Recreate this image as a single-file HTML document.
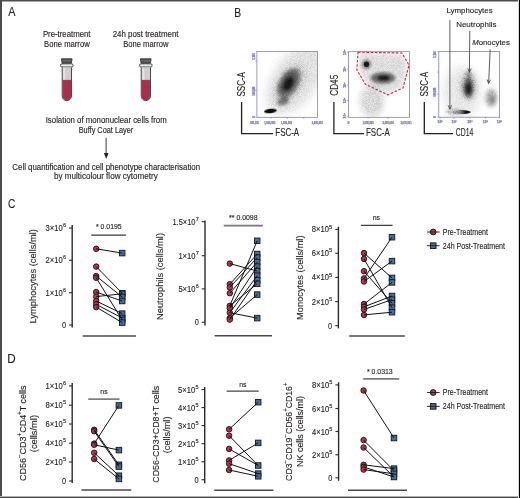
<!DOCTYPE html>
<html><head><meta charset="utf-8"><style>
html,body{margin:0;padding:0;background:#fff;}
#w{position:relative;width:520px;height:498px;overflow:hidden;background:#fff;}
svg{position:absolute;left:0;top:0;will-change:transform;}
svg text{font-family:"Liberation Sans", sans-serif;stroke-width:0.13px;}
</style></head><body><div id="w">
<svg width="520" height="498" viewBox="0 0 520 498">
<rect x="0" y="0" width="520" height="498" fill="#fff"/>
<defs><filter id="f5" x="-100%" y="-100%" width="300%" height="300%"><feGaussianBlur stdDeviation="5"/></filter><filter id="f3" x="-100%" y="-100%" width="300%" height="300%"><feGaussianBlur stdDeviation="3"/></filter><filter id="f1_2" x="-100%" y="-100%" width="300%" height="300%"><feGaussianBlur stdDeviation="1.2"/></filter><filter id="f2_5" x="-100%" y="-100%" width="300%" height="300%"><feGaussianBlur stdDeviation="2.5"/></filter><filter id="f1_5" x="-100%" y="-100%" width="300%" height="300%"><feGaussianBlur stdDeviation="1.5"/></filter><filter id="f0_5" x="-100%" y="-100%" width="300%" height="300%"><feGaussianBlur stdDeviation="0.5"/></filter><filter id="f1_0" x="-100%" y="-100%" width="300%" height="300%"><feGaussianBlur stdDeviation="1.0"/></filter><filter id="f1_6" x="-100%" y="-100%" width="300%" height="300%"><feGaussianBlur stdDeviation="1.6"/></filter><filter id="f0_7" x="-100%" y="-100%" width="300%" height="300%"><feGaussianBlur stdDeviation="0.7"/></filter><filter id="f2" x="-100%" y="-100%" width="300%" height="300%"><feGaussianBlur stdDeviation="2"/></filter><filter id="f1_8" x="-100%" y="-100%" width="300%" height="300%"><feGaussianBlur stdDeviation="1.8"/></filter><filter id="f1" x="-100%" y="-100%" width="300%" height="300%"><feGaussianBlur stdDeviation="1"/></filter></defs>
<text x="8.2" y="16.3" font-size="12" text-anchor="start" fill="#231f20" stroke="#231f20" textLength="7.2" lengthAdjust="spacingAndGlyphs" >A</text>
<text x="66.7" y="36.9" font-size="8.2" text-anchor="middle" fill="#231f20" stroke="#231f20" textLength="47.6" lengthAdjust="spacingAndGlyphs" >Pre-treatment</text>
<text x="66.9" y="46.8" font-size="8.2" text-anchor="middle" fill="#231f20" stroke="#231f20" textLength="45.6" lengthAdjust="spacingAndGlyphs" >Bone marrow</text>
<text x="145.6" y="37.0" font-size="8.2" text-anchor="middle" fill="#231f20" stroke="#231f20" textLength="65.8" lengthAdjust="spacingAndGlyphs" >24h post treatment</text>
<text x="145.8" y="46.9" font-size="8.2" text-anchor="middle" fill="#231f20" stroke="#231f20" textLength="45.2" lengthAdjust="spacingAndGlyphs" >Bone marrow</text>
<g transform="translate(59.6,0)">
<path d="M1.8,58.8 L12.5,58.8 L11.8,63.2 L2.5,63.2 Z" fill="#595959" stroke="#262626" stroke-width="0.8"/>
<line x1="2.6" y1="60.6" x2="11.8" y2="60.6" stroke="#7a7a7a" stroke-width="0.5"/>
<rect x="0.8" y="63.8" width="12.8" height="3.2" rx="1.6" fill="#e9e9e9" stroke="#262626" stroke-width="0.8"/>
<path d="M2.6,67.4 v28.6 a4.65,4.65 0 0 0 9.3,0 v-28.6" fill="#cfcdce" stroke="#2e2e2e" stroke-width="0.85"/>
<rect x="3.6" y="68" width="2.2" height="12" fill="#e4e3e3"/>
<path d="M3.0,80.2 v15.8 a4.25,4.25 0 0 0 8.5,0 v-15.8 z" fill="#aa3049"/>
<line x1="3.0" y1="80.3" x2="11.5" y2="80.3" stroke="#5a2a33" stroke-width="0.5"/>
</g>
<g transform="translate(138.6,0)">
<path d="M1.8,58.8 L12.5,58.8 L11.8,63.2 L2.5,63.2 Z" fill="#595959" stroke="#262626" stroke-width="0.8"/>
<line x1="2.6" y1="60.6" x2="11.8" y2="60.6" stroke="#7a7a7a" stroke-width="0.5"/>
<rect x="0.8" y="63.8" width="12.8" height="3.2" rx="1.6" fill="#e9e9e9" stroke="#262626" stroke-width="0.8"/>
<path d="M2.6,67.4 v28.6 a4.65,4.65 0 0 0 9.3,0 v-28.6" fill="#cfcdce" stroke="#2e2e2e" stroke-width="0.85"/>
<rect x="3.6" y="68" width="2.2" height="12" fill="#e4e3e3"/>
<path d="M3.0,80.2 v15.8 a4.25,4.25 0 0 0 8.5,0 v-15.8 z" fill="#aa3049"/>
<line x1="3.0" y1="80.3" x2="11.5" y2="80.3" stroke="#5a2a33" stroke-width="0.5"/>
</g>
<text x="106.2" y="122.9" font-size="8.2" text-anchor="middle" fill="#231f20" stroke="#231f20" textLength="121" lengthAdjust="spacingAndGlyphs" >Isolation of mononuclear cells from</text>
<text x="106.0" y="133.0" font-size="8.2" text-anchor="middle" fill="#231f20" stroke="#231f20" textLength="54.6" lengthAdjust="spacingAndGlyphs" >Buffy Coat Layer</text>
<line x1="106.1" y1="137.8" x2="106.1" y2="154" stroke="#231f20" stroke-width="0.9"/>
<path d="M103.9,153 L108.5,153 L106.2,158.9 z" fill="#231f20"/>
<text x="106.2" y="169.6" font-size="8.2" text-anchor="middle" fill="#231f20" stroke="#231f20" textLength="187.7" lengthAdjust="spacingAndGlyphs" >Cell quantification and cell phenotype characterisation</text>
<text x="105.9" y="178.8" font-size="8.2" text-anchor="middle" fill="#231f20" stroke="#231f20" textLength="103.7" lengthAdjust="spacingAndGlyphs" >by multicolour flow cytometry</text>
<text x="234.2" y="16.5" font-size="12" text-anchor="start" fill="#231f20" stroke="#231f20" textLength="6.9" lengthAdjust="spacingAndGlyphs" >B</text>
<defs>
<clipPath id="c1"><rect x="256.9" y="51.6" width="60.6" height="65.7"/></clipPath>
<clipPath id="c2"><rect x="348.4" y="51.7" width="61.0" height="65.6"/></clipPath>
<clipPath id="c3"><rect x="438.8" y="51.5" width="60.7" height="65.7"/></clipPath>
<linearGradient id="lymg" x1="0" x2="1" y1="0" y2="0"><stop offset="0" stop-color="#000" stop-opacity="0.05"/><stop offset="0.45" stop-color="#000" stop-opacity="0.35"/><stop offset="0.75" stop-color="#000" stop-opacity="0.95"/><stop offset="1" stop-color="#000" stop-opacity="0.8"/></linearGradient>
<filter id="grain" filterUnits="userSpaceOnUse" x="0" y="0" width="520" height="498" color-interpolation-filters="sRGB"><feTurbulence type="fractalNoise" baseFrequency="1.4" numOctaves="1" seed="3" result="n"/><feColorMatrix in="n" type="matrix" values="0 0 0 0 0  0 0 0 0 0  0 0 0 0 0  0 0 0 1.3 -0.05" result="m"/><feComposite in="SourceGraphic" in2="m" operator="in"/></filter>
</defs>
<g clip-path="url(#c1)"><g filter="url(#grain)">
<ellipse cx="296" cy="78" rx="42" ry="22" transform="rotate(-55 296 78)" fill="#000" fill-opacity="0.2" filter="url(#f5)"/>
<ellipse cx="290" cy="84" rx="22" ry="11" transform="rotate(-58 290 84)" fill="#000" fill-opacity="0.24" filter="url(#f3)"/>
</g>
<ellipse cx="289" cy="83.5" rx="17" ry="9.5" transform="rotate(-60 289 83.5)" fill="#000" fill-opacity="0.2" filter="url(#f1_2)"/>
<ellipse cx="288.5" cy="83" rx="14" ry="8" transform="rotate(-60 288.5 83)" fill="#000" fill-opacity="0.5" filter="url(#f2_5)"/>
<ellipse cx="288.3" cy="83.8" rx="7" ry="4.2" transform="rotate(-60 288.3 83.8)" fill="#000" fill-opacity="0.72" filter="url(#f1_5)"/>
<ellipse cx="283" cy="101.2" rx="6" ry="3.8" transform="rotate(-20 283 101.2)" fill="#000" fill-opacity="0.45" filter="url(#f1_5)"/>
<ellipse cx="270.4" cy="111" rx="6.4" ry="2.2" transform="rotate(-6 270.4 111)" fill="#000" fill-opacity="0.95" filter="url(#f0_5)"/>
</g>
<rect x="256.9" y="51.6" width="60.6" height="65.7" fill="none" stroke="#7878c0" stroke-width="0.75"/>
<g clip-path="url(#c2)"><g filter="url(#grain)">
<path d="M360,53 L401,54 L408,66 L402,87 L388,93.5 L366,83.5 L358,70 Z" fill="#000" fill-opacity="0.22" filter="url(#f2_5)"/>
<ellipse cx="372" cy="101" rx="12" ry="16" transform="rotate(0 372 101)" fill="#000" fill-opacity="0.26" filter="url(#f3)"/>
</g>
<ellipse cx="383" cy="78" rx="13" ry="6.2" transform="rotate(0 383 78)" fill="#000" fill-opacity="0.22" filter="url(#f1_0)"/>
<ellipse cx="383" cy="77.9" rx="11.5" ry="5.2" transform="rotate(0 383 77.9)" fill="#000" fill-opacity="0.42" filter="url(#f1_6)"/>
<ellipse cx="383.5" cy="78" rx="6" ry="2.4" transform="rotate(0 383.5 78)" fill="#000" fill-opacity="0.75" filter="url(#f1_0)"/>
<ellipse cx="366.5" cy="64.3" rx="4.8" ry="4.8" transform="rotate(0 366.5 64.3)" fill="#000" fill-opacity="0.4" filter="url(#f1_2)"/>
<ellipse cx="366.5" cy="64.3" rx="2.6" ry="2.8" transform="rotate(0 366.5 64.3)" fill="#000" fill-opacity="0.8" filter="url(#f0_7)"/>
</g>
<rect x="348.4" y="51.7" width="61.0" height="65.6" fill="none" stroke="#7878c0" stroke-width="0.75"/>
<path d="M358,52.2 L401.8,53 L409,65.1 L403,88 L387.9,94.8 L365.4,84.3 L356.9,69.9 Z" fill="none" stroke="#c8283a" stroke-width="1.1" stroke-dasharray="2.6,1.6"/>
<g clip-path="url(#c3)"><g filter="url(#grain)">
<ellipse cx="462" cy="92" rx="19" ry="26" transform="rotate(0 462 92)" fill="#000" fill-opacity="0.15" filter="url(#f5)"/>
<ellipse cx="468.5" cy="86" rx="8.5" ry="14.5" transform="rotate(0 468.5 86)" fill="#000" fill-opacity="0.32" filter="url(#f2)"/>
<ellipse cx="491" cy="97.5" rx="6.5" ry="10" transform="rotate(0 491 97.5)" fill="#000" fill-opacity="0.26" filter="url(#f2)"/>
<ellipse cx="455" cy="111.8" rx="10" ry="3" transform="rotate(0 455 111.8)" fill="#000" fill-opacity="0.35" filter="url(#f1_5)"/>
</g>
<ellipse cx="468.6" cy="77" rx="2.6" ry="5" transform="rotate(0 468.6 77)" fill="#000" fill-opacity="0.3" filter="url(#f1_5)"/>
<ellipse cx="468.5" cy="88" rx="5.2" ry="9.5" transform="rotate(0 468.5 88)" fill="#000" fill-opacity="0.5" filter="url(#f1_8)"/>
<ellipse cx="468.5" cy="88.5" rx="2.8" ry="5.5" transform="rotate(0 468.5 88.5)" fill="#000" fill-opacity="0.65" filter="url(#f1_2)"/>
<ellipse cx="491.5" cy="98.5" rx="5.5" ry="8.5" transform="rotate(0 491.5 98.5)" fill="#000" fill-opacity="0.18" filter="url(#f1_5)"/>
<ellipse cx="492.2" cy="99.5" rx="2.5" ry="3.5" transform="rotate(0 492.2 99.5)" fill="#000" fill-opacity="0.2" filter="url(#f1)"/>
<ellipse cx="461" cy="112.1" rx="10" ry="2.0" fill="url(#lymg)" filter="url(#f0_7)"/>
</g>
<rect x="438.8" y="51.5" width="60.7" height="65.7" fill="none" stroke="#7878c0" stroke-width="0.75"/>
<line x1="255.3" y1="61" x2="256.9" y2="61" stroke="#7878c0" stroke-width="0.6"/>
<line x1="255.3" y1="90" x2="256.9" y2="90" stroke="#7878c0" stroke-width="0.6"/>
<line x1="255.3" y1="117" x2="256.9" y2="117" stroke="#7878c0" stroke-width="0.6"/>
<line x1="271" y1="117.3" x2="271" y2="118.9" stroke="#7878c0" stroke-width="0.6"/>
<line x1="287.3" y1="117.3" x2="287.3" y2="118.9" stroke="#7878c0" stroke-width="0.6"/>
<line x1="303.8" y1="117.3" x2="303.8" y2="118.9" stroke="#7878c0" stroke-width="0.6"/>
<text transform="translate(254.6,56.5) rotate(-90)" font-size="3.5" text-anchor="middle" fill="#7878c0" stroke="#7878c0" font-weight="bold" style="stroke-width:0.25px" textLength="6.25" lengthAdjust="spacingAndGlyphs">1,180</text>
<text transform="translate(254.6,91) rotate(-90)" font-size="3.5" text-anchor="middle" fill="#7878c0" stroke="#7878c0" font-weight="bold" style="stroke-width:0.25px" textLength="8.75" lengthAdjust="spacingAndGlyphs">568,880</text>
<text transform="translate(254.6,117) rotate(-90)" font-size="3.5" text-anchor="middle" fill="#7878c0" stroke="#7878c0" font-weight="bold" style="stroke-width:0.25px">0</text>
<text x="254.5" y="123.6" font-size="3.5" text-anchor="middle" fill="#7878c0" stroke="#7878c0" font-weight="bold" style="stroke-width:0.25px" textLength="8.75" lengthAdjust="spacingAndGlyphs">590,100</text>
<text x="269.8" y="123.6" font-size="3.5" text-anchor="middle" fill="#7878c0" stroke="#7878c0" font-weight="bold" style="stroke-width:0.25px" textLength="11.25" lengthAdjust="spacingAndGlyphs">1,000,000</text>
<text x="286.5" y="123.6" font-size="3.5" text-anchor="middle" fill="#7878c0" stroke="#7878c0" font-weight="bold" style="stroke-width:0.25px" textLength="11.25" lengthAdjust="spacingAndGlyphs">1,500,000</text>
<text x="317.3" y="123.6" font-size="3.5" text-anchor="middle" fill="#7878c0" stroke="#7878c0" font-weight="bold" style="stroke-width:0.25px" textLength="11.25" lengthAdjust="spacingAndGlyphs">2,400,010</text>
<line x1="346.8" y1="52.2" x2="348.4" y2="52.2" stroke="#7878c0" stroke-width="0.6"/>
<line x1="346.8" y1="69.1" x2="348.4" y2="69.1" stroke="#7878c0" stroke-width="0.6"/>
<line x1="346.8" y1="85.1" x2="348.4" y2="85.1" stroke="#7878c0" stroke-width="0.6"/>
<line x1="346.8" y1="100.4" x2="348.4" y2="100.4" stroke="#7878c0" stroke-width="0.6"/>
<line x1="346.8" y1="116.5" x2="348.4" y2="116.5" stroke="#7878c0" stroke-width="0.6"/>
<line x1="368" y1="117.3" x2="368" y2="118.9" stroke="#7878c0" stroke-width="0.6"/>
<line x1="388.2" y1="117.3" x2="388.2" y2="118.9" stroke="#7878c0" stroke-width="0.6"/>
<text transform="translate(345.6,52.2) rotate(-90)" font-size="3.5" text-anchor="middle" fill="#7878c0" stroke="#7878c0" font-weight="bold" style="stroke-width:0.25px">10⁵</text>
<text transform="translate(345.6,69.1) rotate(-90)" font-size="3.5" text-anchor="middle" fill="#7878c0" stroke="#7878c0" font-weight="bold" style="stroke-width:0.25px">10⁵</text>
<text transform="translate(345.6,85.1) rotate(-90)" font-size="3.5" text-anchor="middle" fill="#7878c0" stroke="#7878c0" font-weight="bold" style="stroke-width:0.25px">10⁵</text>
<text transform="translate(345.6,100.4) rotate(-90)" font-size="3.5" text-anchor="middle" fill="#7878c0" stroke="#7878c0" font-weight="bold" style="stroke-width:0.25px">10⁵</text>
<text transform="translate(345.6,115.7) rotate(-90)" font-size="3.5" text-anchor="middle" fill="#7878c0" stroke="#7878c0" font-weight="bold" style="stroke-width:0.25px">10⁵</text>
<text x="348.4" y="123.6" font-size="3.5" text-anchor="middle" fill="#7878c0" stroke="#7878c0" font-weight="bold" style="stroke-width:0.25px">0</text>
<text x="368" y="123.6" font-size="3.5" text-anchor="middle" fill="#7878c0" stroke="#7878c0" font-weight="bold" style="stroke-width:0.25px" textLength="11.25" lengthAdjust="spacingAndGlyphs">1,000,000</text>
<text x="388.2" y="123.6" font-size="3.5" text-anchor="middle" fill="#7878c0" stroke="#7878c0" font-weight="bold" style="stroke-width:0.25px" textLength="11.25" lengthAdjust="spacingAndGlyphs">2,000,000</text>
<text x="406" y="123.6" font-size="3.5" text-anchor="middle" fill="#7878c0" stroke="#7878c0" font-weight="bold" style="stroke-width:0.25px" textLength="11.25" lengthAdjust="spacingAndGlyphs">3,070,031</text>
<line x1="437.2" y1="51.8" x2="438.8" y2="51.8" stroke="#7878c0" stroke-width="0.6"/>
<line x1="437.2" y1="72" x2="438.8" y2="72" stroke="#7878c0" stroke-width="0.6"/>
<line x1="437.2" y1="94" x2="438.8" y2="94" stroke="#7878c0" stroke-width="0.6"/>
<line x1="437.2" y1="117" x2="438.8" y2="117" stroke="#7878c0" stroke-width="0.6"/>
<line x1="440" y1="117.2" x2="440" y2="118.8" stroke="#7878c0" stroke-width="0.6"/>
<line x1="454" y1="117.2" x2="454" y2="118.8" stroke="#7878c0" stroke-width="0.6"/>
<line x1="469.8" y1="117.2" x2="469.8" y2="118.8" stroke="#7878c0" stroke-width="0.6"/>
<line x1="485.4" y1="117.2" x2="485.4" y2="118.8" stroke="#7878c0" stroke-width="0.6"/>
<line x1="499.4" y1="117.2" x2="499.4" y2="118.8" stroke="#7878c0" stroke-width="0.6"/>
<text transform="translate(436.2,54.5) rotate(-90)" font-size="3.5" text-anchor="middle" fill="#7878c0" stroke="#7878c0" font-weight="bold" style="stroke-width:0.25px" textLength="6.25" lengthAdjust="spacingAndGlyphs">1,180</text>
<text transform="translate(436.2,92) rotate(-90)" font-size="3.5" text-anchor="middle" fill="#7878c0" stroke="#7878c0" font-weight="bold" style="stroke-width:0.25px" textLength="8.75" lengthAdjust="spacingAndGlyphs">568,880</text>
<text transform="translate(436.2,117) rotate(-90)" font-size="3.5" text-anchor="middle" fill="#7878c0" stroke="#7878c0" font-weight="bold" style="stroke-width:0.25px">0</text>
<text x="440" y="123.4" font-size="3.5" text-anchor="middle" fill="#7878c0" stroke="#7878c0" font-weight="bold" style="stroke-width:0.25px">10³</text>
<text x="454" y="123.4" font-size="3.5" text-anchor="middle" fill="#7878c0" stroke="#7878c0" font-weight="bold" style="stroke-width:0.25px">10³</text>
<text x="469.8" y="123.4" font-size="3.5" text-anchor="middle" fill="#7878c0" stroke="#7878c0" font-weight="bold" style="stroke-width:0.25px">10³</text>
<text x="485.4" y="123.4" font-size="3.5" text-anchor="middle" fill="#7878c0" stroke="#7878c0" font-weight="bold" style="stroke-width:0.25px">10³</text>
<text x="499.4" y="123.4" font-size="3.5" text-anchor="middle" fill="#7878c0" stroke="#7878c0" font-weight="bold" style="stroke-width:0.25px">10³</text>
<text transform="translate(245.3,84.3) rotate(-90)" x="0" y="0" font-size="10.3" text-anchor="middle" fill="#231f20" stroke="#231f20" textLength="24.6" lengthAdjust="spacingAndGlyphs">SSC-A</text>
<path d="M241.6,102.1 V133.6 H273" fill="none" stroke="#231f20" stroke-width="1.3"/>
<text x="275.3" y="136.3" font-size="10.3" text-anchor="start" fill="#231f20" stroke="#231f20" textLength="23.8" lengthAdjust="spacingAndGlyphs" >FSC-A</text>
<text transform="translate(337.5,85.3) rotate(-90)" x="0" y="0" font-size="10.3" text-anchor="middle" fill="#231f20" stroke="#231f20" textLength="21" lengthAdjust="spacingAndGlyphs">CD45</text>
<path d="M333.9,102.1 V133.6 H364" fill="none" stroke="#231f20" stroke-width="1.3"/>
<text x="366" y="136.3" font-size="10.3" text-anchor="start" fill="#231f20" stroke="#231f20" textLength="23.8" lengthAdjust="spacingAndGlyphs" >FSC-A</text>
<text transform="translate(427.6,84.2) rotate(-90)" x="0" y="0" font-size="10.3" text-anchor="middle" fill="#231f20" stroke="#231f20" textLength="24.6" lengthAdjust="spacingAndGlyphs">SSC-A</text>
<path d="M424.3,102.1 V133.6 H453" fill="none" stroke="#231f20" stroke-width="1.3"/>
<text x="455.8" y="136.3" font-size="10.3" text-anchor="start" fill="#231f20" stroke="#231f20" textLength="17.4" lengthAdjust="spacingAndGlyphs" >CD14</text>
<text x="446.5" y="13.3" font-size="8.1" text-anchor="start" fill="#231f20" stroke="#231f20" textLength="46.1" lengthAdjust="spacingAndGlyphs" >Lymphocytes</text>
<text x="456.2" y="27.2" font-size="8.1" text-anchor="start" fill="#231f20" stroke="#231f20" textLength="40.3" lengthAdjust="spacingAndGlyphs" >Neutrophils</text>
<text x="472.3" y="45.0" font-size="8.1" text-anchor="start" fill="#231f20" stroke="#231f20" textLength="37.5" lengthAdjust="spacingAndGlyphs" ><tspan font-style="italic">M</tspan>onocytes</text>
<line x1="449.9" y1="20" x2="449.9" y2="109.2" stroke="#4a4a4a" stroke-width="0.9"/>
<path d="M448.19,105.37 L449.9,109.2 L451.61,105.37" fill="none" stroke="#4a4a4a" stroke-width="0.9"/>
<line x1="469.8" y1="30.8" x2="469.4" y2="72.3" stroke="#4a4a4a" stroke-width="0.9"/>
<path d="M467.72,68.45 L469.4,72.3 L471.15,68.48" fill="none" stroke="#4a4a4a" stroke-width="0.9"/>
<line x1="490.2" y1="49.5" x2="488.6" y2="83.5" stroke="#4a4a4a" stroke-width="0.9"/>
<path d="M487.07,79.59 L488.6,83.5 L490.49,79.75" fill="none" stroke="#4a4a4a" stroke-width="0.9"/>
<text x="7.9" y="207.6" font-size="12.2" text-anchor="start" fill="#231f20" stroke="#231f20" textLength="7.3" lengthAdjust="spacingAndGlyphs" >C</text>
<text x="7.3" y="362.9" font-size="12.2" text-anchor="start" fill="#231f20" stroke="#231f20" textLength="8.4" lengthAdjust="spacingAndGlyphs" >D</text>
<text transform="translate(36.0,276.3) rotate(-90)" x="0" y="0" font-size="9.3" text-anchor="middle" fill="#231f20" stroke="#231f20" textLength="94.4" lengthAdjust="spacingAndGlyphs">Lymphocytes (cells/ml)</text>
<line x1="72.2" y1="225" x2="72.2" y2="327.5" stroke="#2a2a2a" stroke-width="1.4"/>
<line x1="69.0" y1="228" x2="72.2" y2="228" stroke="#2a2a2a" stroke-width="1.1"/>
<text x="66.0" y="227.1" font-size="6" text-anchor="end" fill="#231f20" stroke="#231f20" textLength="3.1" lengthAdjust="spacingAndGlyphs">6</text>
<text x="62.7" y="231.0" font-size="8.6" text-anchor="end" fill="#231f20" stroke="#231f20" textLength="17.08" lengthAdjust="spacingAndGlyphs">3×10</text>
<line x1="69.0" y1="260.3" x2="72.2" y2="260.3" stroke="#2a2a2a" stroke-width="1.1"/>
<text x="66.0" y="259.4" font-size="6" text-anchor="end" fill="#231f20" stroke="#231f20" textLength="3.1" lengthAdjust="spacingAndGlyphs">6</text>
<text x="62.7" y="263.3" font-size="8.6" text-anchor="end" fill="#231f20" stroke="#231f20" textLength="17.08" lengthAdjust="spacingAndGlyphs">2×10</text>
<line x1="69.0" y1="292.7" x2="72.2" y2="292.7" stroke="#2a2a2a" stroke-width="1.1"/>
<text x="66.0" y="291.8" font-size="6" text-anchor="end" fill="#231f20" stroke="#231f20" textLength="3.1" lengthAdjust="spacingAndGlyphs">6</text>
<text x="62.7" y="295.7" font-size="8.6" text-anchor="end" fill="#231f20" stroke="#231f20" textLength="17.08" lengthAdjust="spacingAndGlyphs">1×10</text>
<line x1="69.0" y1="325" x2="72.2" y2="325" stroke="#2a2a2a" stroke-width="1.1"/>
<text x="66.0" y="328.0" font-size="8.6" text-anchor="end" fill="#231f20" stroke="#231f20" textLength="4.1" lengthAdjust="spacingAndGlyphs">0</text>
<line x1="91.2" y1="235.2" x2="125.9" y2="235.2" stroke="#383838" stroke-width="1.3"/>
<text x="108.8" y="229.1" font-size="6.9" text-anchor="middle" fill="#231f20" stroke="#231f20" >* 0.0195</text>
<line x1="82.6" y1="336" x2="136" y2="336" stroke="#4a4a4a" stroke-width="1.6"/>
<circle cx="96.2" cy="248.8" r="2.75" fill="#bb344c" stroke="#1e1416" stroke-width="0.95"/>
<circle cx="96.2" cy="266.6" r="2.75" fill="#bb344c" stroke="#1e1416" stroke-width="0.95"/>
<circle cx="96.2" cy="276.1" r="2.75" fill="#bb344c" stroke="#1e1416" stroke-width="0.95"/>
<circle cx="96.2" cy="277.8" r="2.75" fill="#bb344c" stroke="#1e1416" stroke-width="0.95"/>
<circle cx="96.2" cy="292.1" r="2.75" fill="#bb344c" stroke="#1e1416" stroke-width="0.95"/>
<circle cx="96.2" cy="296.6" r="2.75" fill="#bb344c" stroke="#1e1416" stroke-width="0.95"/>
<circle cx="96.2" cy="301" r="2.75" fill="#bb344c" stroke="#1e1416" stroke-width="0.95"/>
<circle cx="96.2" cy="304.4" r="2.75" fill="#bb344c" stroke="#1e1416" stroke-width="0.95"/>
<circle cx="96.2" cy="307.1" r="2.75" fill="#bb344c" stroke="#1e1416" stroke-width="0.95"/>
<rect x="119.45" y="250.35" width="5.5" height="5.5" fill="#476d9f" stroke="#161b24" stroke-width="0.95"/>
<rect x="119.45" y="290.45" width="5.5" height="5.5" fill="#476d9f" stroke="#161b24" stroke-width="0.95"/>
<rect x="119.45" y="291.05" width="5.5" height="5.5" fill="#476d9f" stroke="#161b24" stroke-width="0.95"/>
<rect x="119.45" y="294.25" width="5.5" height="5.5" fill="#476d9f" stroke="#161b24" stroke-width="0.95"/>
<rect x="119.45" y="298.25" width="5.5" height="5.5" fill="#476d9f" stroke="#161b24" stroke-width="0.95"/>
<rect x="119.45" y="310.85" width="5.5" height="5.5" fill="#476d9f" stroke="#161b24" stroke-width="0.95"/>
<rect x="119.45" y="315.25" width="5.5" height="5.5" fill="#476d9f" stroke="#161b24" stroke-width="0.95"/>
<rect x="119.45" y="317.25" width="5.5" height="5.5" fill="#476d9f" stroke="#161b24" stroke-width="0.95"/>
<rect x="119.45" y="319.85" width="5.5" height="5.5" fill="#476d9f" stroke="#161b24" stroke-width="0.95"/>
<line x1="96.2" y1="248.8" x2="122.2" y2="253.1" stroke="#111" stroke-width="1.0"/>
<line x1="96.2" y1="266.6" x2="122.2" y2="293.2" stroke="#111" stroke-width="1.0"/>
<line x1="96.2" y1="276.1" x2="122.2" y2="297" stroke="#111" stroke-width="1.0"/>
<line x1="96.2" y1="277.8" x2="122.2" y2="320" stroke="#111" stroke-width="1.0"/>
<line x1="96.2" y1="292.1" x2="122.2" y2="301" stroke="#111" stroke-width="1.0"/>
<line x1="96.2" y1="296.6" x2="122.2" y2="293.8" stroke="#111" stroke-width="1.0"/>
<line x1="96.2" y1="301" x2="122.2" y2="313.6" stroke="#111" stroke-width="1.0"/>
<line x1="96.2" y1="304.4" x2="122.2" y2="318" stroke="#111" stroke-width="1.0"/>
<line x1="96.2" y1="307.1" x2="122.2" y2="322.6" stroke="#111" stroke-width="1.0"/>
<text transform="translate(162.5,276.5) rotate(-90)" x="0" y="0" font-size="9.3" text-anchor="middle" fill="#231f20" stroke="#231f20" textLength="87" lengthAdjust="spacingAndGlyphs">Neutrophils (cells/ml)</text>
<line x1="205.0" y1="220.4" x2="205.0" y2="325.5" stroke="#2a2a2a" stroke-width="1.4"/>
<line x1="201.8" y1="221.7" x2="205.0" y2="221.7" stroke="#2a2a2a" stroke-width="1.1"/>
<text x="198.8" y="220.8" font-size="6" text-anchor="end" fill="#231f20" stroke="#231f20" textLength="3.1" lengthAdjust="spacingAndGlyphs">7</text>
<text x="195.5" y="224.7" font-size="8.6" text-anchor="end" fill="#231f20" stroke="#231f20" textLength="23.1" lengthAdjust="spacingAndGlyphs">1.5×10</text>
<line x1="201.8" y1="255.7" x2="205.0" y2="255.7" stroke="#2a2a2a" stroke-width="1.1"/>
<text x="198.8" y="254.8" font-size="6" text-anchor="end" fill="#231f20" stroke="#231f20" textLength="3.1" lengthAdjust="spacingAndGlyphs">7</text>
<text x="195.5" y="258.7" font-size="8.6" text-anchor="end" fill="#231f20" stroke="#231f20" textLength="17.08" lengthAdjust="spacingAndGlyphs">1×10</text>
<line x1="201.8" y1="288.9" x2="205.0" y2="288.9" stroke="#2a2a2a" stroke-width="1.1"/>
<text x="198.8" y="288.0" font-size="6" text-anchor="end" fill="#231f20" stroke="#231f20" textLength="3.1" lengthAdjust="spacingAndGlyphs">6</text>
<text x="195.5" y="291.9" font-size="8.6" text-anchor="end" fill="#231f20" stroke="#231f20" textLength="17.08" lengthAdjust="spacingAndGlyphs">5×10</text>
<line x1="201.8" y1="322.3" x2="205.0" y2="322.3" stroke="#2a2a2a" stroke-width="1.1"/>
<text x="198.8" y="325.3" font-size="8.6" text-anchor="end" fill="#231f20" stroke="#231f20" textLength="4.1" lengthAdjust="spacingAndGlyphs">0</text>
<line x1="223.7" y1="225.7" x2="262.9" y2="225.7" stroke="#7a7a7a" stroke-width="1.7"/>
<text x="243.3" y="219.6" font-size="6.9" text-anchor="middle" fill="#231f20" stroke="#231f20" >** 0.0098</text>
<line x1="214.6" y1="335.7" x2="272" y2="335.7" stroke="#4a4a4a" stroke-width="1.6"/>
<circle cx="229.8" cy="263.6" r="2.75" fill="#bb344c" stroke="#1e1416" stroke-width="0.95"/>
<circle cx="229.8" cy="284.2" r="2.75" fill="#bb344c" stroke="#1e1416" stroke-width="0.95"/>
<circle cx="229.8" cy="287.4" r="2.75" fill="#bb344c" stroke="#1e1416" stroke-width="0.95"/>
<circle cx="229.8" cy="293.2" r="2.75" fill="#bb344c" stroke="#1e1416" stroke-width="0.95"/>
<circle cx="229.8" cy="305.8" r="2.75" fill="#bb344c" stroke="#1e1416" stroke-width="0.95"/>
<circle cx="229.8" cy="308.2" r="2.75" fill="#bb344c" stroke="#1e1416" stroke-width="0.95"/>
<circle cx="229.8" cy="312.7" r="2.75" fill="#bb344c" stroke="#1e1416" stroke-width="0.95"/>
<circle cx="229.8" cy="318.1" r="2.75" fill="#bb344c" stroke="#1e1416" stroke-width="0.95"/>
<circle cx="229.8" cy="319.6" r="2.75" fill="#bb344c" stroke="#1e1416" stroke-width="0.95"/>
<rect x="254.45" y="238.05" width="5.5" height="5.5" fill="#476d9f" stroke="#161b24" stroke-width="0.95"/>
<rect x="254.45" y="251.25" width="5.5" height="5.5" fill="#476d9f" stroke="#161b24" stroke-width="0.95"/>
<rect x="254.45" y="254.85" width="5.5" height="5.5" fill="#476d9f" stroke="#161b24" stroke-width="0.95"/>
<rect x="254.45" y="259.35" width="5.5" height="5.5" fill="#476d9f" stroke="#161b24" stroke-width="0.95"/>
<rect x="254.45" y="263.85" width="5.5" height="5.5" fill="#476d9f" stroke="#161b24" stroke-width="0.95"/>
<rect x="254.45" y="268.35" width="5.5" height="5.5" fill="#476d9f" stroke="#161b24" stroke-width="0.95"/>
<rect x="254.45" y="272.95" width="5.5" height="5.5" fill="#476d9f" stroke="#161b24" stroke-width="0.95"/>
<rect x="254.45" y="277.45" width="5.5" height="5.5" fill="#476d9f" stroke="#161b24" stroke-width="0.95"/>
<rect x="254.45" y="281.05" width="5.5" height="5.5" fill="#476d9f" stroke="#161b24" stroke-width="0.95"/>
<rect x="254.45" y="291.85" width="5.5" height="5.5" fill="#476d9f" stroke="#161b24" stroke-width="0.95"/>
<rect x="254.45" y="315.35" width="5.5" height="5.5" fill="#476d9f" stroke="#161b24" stroke-width="0.95"/>
<line x1="229.8" y1="263.6" x2="257.2" y2="271.1" stroke="#111" stroke-width="1.0"/>
<line x1="229.8" y1="284.2" x2="257.2" y2="254" stroke="#111" stroke-width="1.0"/>
<line x1="229.8" y1="287.4" x2="257.2" y2="257.6" stroke="#111" stroke-width="1.0"/>
<line x1="229.8" y1="293.2" x2="257.2" y2="262.1" stroke="#111" stroke-width="1.0"/>
<line x1="229.8" y1="305.8" x2="257.2" y2="240.8" stroke="#111" stroke-width="1.0"/>
<line x1="229.8" y1="305.8" x2="257.2" y2="283.8" stroke="#111" stroke-width="1.0"/>
<line x1="229.8" y1="308.2" x2="257.2" y2="266.6" stroke="#111" stroke-width="1.0"/>
<line x1="229.8" y1="312.7" x2="257.2" y2="318.1" stroke="#111" stroke-width="1.0"/>
<line x1="229.8" y1="312.7" x2="257.2" y2="275.7" stroke="#111" stroke-width="1.0"/>
<line x1="229.8" y1="318.1" x2="257.2" y2="294.6" stroke="#111" stroke-width="1.0"/>
<line x1="229.8" y1="319.6" x2="257.2" y2="280.2" stroke="#111" stroke-width="1.0"/>
<text transform="translate(302.8,277.7) rotate(-90)" x="0" y="0" font-size="9.3" text-anchor="middle" fill="#231f20" stroke="#231f20" textLength="84.4" lengthAdjust="spacingAndGlyphs">Monocytes (cells/ml)</text>
<line x1="338.4" y1="226.7" x2="338.4" y2="328.4" stroke="#2a2a2a" stroke-width="1.4"/>
<line x1="335.2" y1="229.4" x2="338.4" y2="229.4" stroke="#2a2a2a" stroke-width="1.1"/>
<text x="332.2" y="228.5" font-size="6" text-anchor="end" fill="#231f20" stroke="#231f20" textLength="3.1" lengthAdjust="spacingAndGlyphs">5</text>
<text x="328.9" y="232.4" font-size="8.6" text-anchor="end" fill="#231f20" stroke="#231f20" textLength="17.08" lengthAdjust="spacingAndGlyphs">8×10</text>
<line x1="335.2" y1="253.3" x2="338.4" y2="253.3" stroke="#2a2a2a" stroke-width="1.1"/>
<text x="332.2" y="252.4" font-size="6" text-anchor="end" fill="#231f20" stroke="#231f20" textLength="3.1" lengthAdjust="spacingAndGlyphs">5</text>
<text x="328.9" y="256.3" font-size="8.6" text-anchor="end" fill="#231f20" stroke="#231f20" textLength="17.08" lengthAdjust="spacingAndGlyphs">6×10</text>
<line x1="335.2" y1="277.4" x2="338.4" y2="277.4" stroke="#2a2a2a" stroke-width="1.1"/>
<text x="332.2" y="276.5" font-size="6" text-anchor="end" fill="#231f20" stroke="#231f20" textLength="3.1" lengthAdjust="spacingAndGlyphs">5</text>
<text x="328.9" y="280.4" font-size="8.6" text-anchor="end" fill="#231f20" stroke="#231f20" textLength="17.08" lengthAdjust="spacingAndGlyphs">4×10</text>
<line x1="335.2" y1="301.6" x2="338.4" y2="301.6" stroke="#2a2a2a" stroke-width="1.1"/>
<text x="332.2" y="300.7" font-size="6" text-anchor="end" fill="#231f20" stroke="#231f20" textLength="3.1" lengthAdjust="spacingAndGlyphs">5</text>
<text x="328.9" y="304.6" font-size="8.6" text-anchor="end" fill="#231f20" stroke="#231f20" textLength="17.08" lengthAdjust="spacingAndGlyphs">2×10</text>
<line x1="335.2" y1="325.7" x2="338.4" y2="325.7" stroke="#2a2a2a" stroke-width="1.1"/>
<text x="332.2" y="328.7" font-size="8.6" text-anchor="end" fill="#231f20" stroke="#231f20" textLength="4.1" lengthAdjust="spacingAndGlyphs">0</text>
<line x1="360.9" y1="225.3" x2="392.6" y2="225.3" stroke="#404040" stroke-width="1.3"/>
<text x="376.4" y="219.6" font-size="6.9" text-anchor="middle" fill="#231f20" stroke="#231f20" >ns</text>
<line x1="349.2" y1="336" x2="404.8" y2="336" stroke="#4a4a4a" stroke-width="1.6"/>
<circle cx="364.0" cy="253.1" r="2.75" fill="#bb344c" stroke="#1e1416" stroke-width="0.95"/>
<circle cx="364.0" cy="258.9" r="2.75" fill="#bb344c" stroke="#1e1416" stroke-width="0.95"/>
<circle cx="364.0" cy="271.2" r="2.75" fill="#bb344c" stroke="#1e1416" stroke-width="0.95"/>
<circle cx="364.0" cy="278.4" r="2.75" fill="#bb344c" stroke="#1e1416" stroke-width="0.95"/>
<circle cx="364.0" cy="281.5" r="2.75" fill="#bb344c" stroke="#1e1416" stroke-width="0.95"/>
<circle cx="364.0" cy="304.1" r="2.75" fill="#bb344c" stroke="#1e1416" stroke-width="0.95"/>
<circle cx="364.0" cy="306.8" r="2.75" fill="#bb344c" stroke="#1e1416" stroke-width="0.95"/>
<circle cx="364.0" cy="309.5" r="2.75" fill="#bb344c" stroke="#1e1416" stroke-width="0.95"/>
<circle cx="364.0" cy="314.9" r="2.75" fill="#bb344c" stroke="#1e1416" stroke-width="0.95"/>
<rect x="389.25" y="234.45" width="5.5" height="5.5" fill="#476d9f" stroke="#161b24" stroke-width="0.95"/>
<rect x="389.25" y="258.35" width="5.5" height="5.5" fill="#476d9f" stroke="#161b24" stroke-width="0.95"/>
<rect x="389.25" y="275.15" width="5.5" height="5.5" fill="#476d9f" stroke="#161b24" stroke-width="0.95"/>
<rect x="389.25" y="279.65" width="5.5" height="5.5" fill="#476d9f" stroke="#161b24" stroke-width="0.95"/>
<rect x="389.25" y="293.25" width="5.5" height="5.5" fill="#476d9f" stroke="#161b24" stroke-width="0.95"/>
<rect x="389.25" y="296.85" width="5.5" height="5.5" fill="#476d9f" stroke="#161b24" stroke-width="0.95"/>
<rect x="389.25" y="300.45" width="5.5" height="5.5" fill="#476d9f" stroke="#161b24" stroke-width="0.95"/>
<rect x="389.25" y="304.95" width="5.5" height="5.5" fill="#476d9f" stroke="#161b24" stroke-width="0.95"/>
<rect x="389.25" y="309.45" width="5.5" height="5.5" fill="#476d9f" stroke="#161b24" stroke-width="0.95"/>
<line x1="364.0" y1="253.1" x2="392.0" y2="277.9" stroke="#111" stroke-width="1.0"/>
<line x1="364.0" y1="258.9" x2="392.0" y2="307.7" stroke="#111" stroke-width="1.0"/>
<line x1="364.0" y1="271.2" x2="392.0" y2="303.2" stroke="#111" stroke-width="1.0"/>
<line x1="364.0" y1="278.4" x2="392.0" y2="237.2" stroke="#111" stroke-width="1.0"/>
<line x1="364.0" y1="281.5" x2="392.0" y2="261.1" stroke="#111" stroke-width="1.0"/>
<line x1="364.0" y1="304.1" x2="392.0" y2="282.4" stroke="#111" stroke-width="1.0"/>
<line x1="364.0" y1="306.8" x2="392.0" y2="296" stroke="#111" stroke-width="1.0"/>
<line x1="364.0" y1="309.5" x2="392.0" y2="299.6" stroke="#111" stroke-width="1.0"/>
<line x1="364.0" y1="314.9" x2="392.0" y2="312.2" stroke="#111" stroke-width="1.0"/>
<circle cx="433.2" cy="232" r="2.9" fill="#bb344c" stroke="#1e1416" stroke-width="0.95"/>
<line x1="426.9" y1="232" x2="439.7" y2="232" stroke="#1a1a1a" stroke-width="0.9"/>
<text x="442.8" y="235.2" font-size="8.6" text-anchor="start" fill="#231f20" stroke="#231f20" textLength="45.2" lengthAdjust="spacingAndGlyphs" >Pre-Treatment</text>
<rect x="430.4" y="242.9" width="5.6" height="5.6" fill="#476d9f" stroke="#161b24" stroke-width="0.95"/>
<line x1="426.9" y1="245.7" x2="439.7" y2="245.7" stroke="#1a1a1a" stroke-width="0.9"/>
<text x="442.8" y="248.5" font-size="8.6" text-anchor="start" fill="#231f20" stroke="#231f20" textLength="62.2" lengthAdjust="spacingAndGlyphs" >24h Post-Treatment</text>
<text transform="translate(25.5,433.2) rotate(-90)" x="0" y="0" font-size="9.6" text-anchor="middle" fill="#231f20" stroke="#231f20" textLength="95.6" lengthAdjust="spacingAndGlyphs">CD56<tspan font-size="6.6" dy="-3.6">−</tspan><tspan dy="3.6">CD3</tspan><tspan font-size="6.6" dy="-3.6">+</tspan><tspan dy="3.6">CD4</tspan><tspan font-size="6.6" dy="-3.6">+</tspan><tspan dy="3.6">T cells</tspan></text>
<text transform="translate(37.3,433.6) rotate(-90)" x="0" y="0" font-size="9.3" text-anchor="middle" fill="#231f20" stroke="#231f20" textLength="37.2" lengthAdjust="spacingAndGlyphs">(cells/ml)</text>
<line x1="72.2" y1="383" x2="72.2" y2="483" stroke="#2a2a2a" stroke-width="1.4"/>
<line x1="69.0" y1="385.9" x2="72.2" y2="385.9" stroke="#2a2a2a" stroke-width="1.1"/>
<text x="66.0" y="385.0" font-size="6" text-anchor="end" fill="#231f20" stroke="#231f20" textLength="3.1" lengthAdjust="spacingAndGlyphs">6</text>
<text x="62.7" y="388.9" font-size="8.6" text-anchor="end" fill="#231f20" stroke="#231f20" textLength="17.08" lengthAdjust="spacingAndGlyphs">1×10</text>
<line x1="69.0" y1="405.2" x2="72.2" y2="405.2" stroke="#2a2a2a" stroke-width="1.1"/>
<text x="66.0" y="404.3" font-size="6" text-anchor="end" fill="#231f20" stroke="#231f20" textLength="3.1" lengthAdjust="spacingAndGlyphs">5</text>
<text x="62.7" y="408.2" font-size="8.6" text-anchor="end" fill="#231f20" stroke="#231f20" textLength="17.08" lengthAdjust="spacingAndGlyphs">8×10</text>
<line x1="69.0" y1="424" x2="72.2" y2="424" stroke="#2a2a2a" stroke-width="1.1"/>
<text x="66.0" y="423.1" font-size="6" text-anchor="end" fill="#231f20" stroke="#231f20" textLength="3.1" lengthAdjust="spacingAndGlyphs">5</text>
<text x="62.7" y="427.0" font-size="8.6" text-anchor="end" fill="#231f20" stroke="#231f20" textLength="17.08" lengthAdjust="spacingAndGlyphs">6×10</text>
<line x1="69.0" y1="443.2" x2="72.2" y2="443.2" stroke="#2a2a2a" stroke-width="1.1"/>
<text x="66.0" y="442.3" font-size="6" text-anchor="end" fill="#231f20" stroke="#231f20" textLength="3.1" lengthAdjust="spacingAndGlyphs">5</text>
<text x="62.7" y="446.2" font-size="8.6" text-anchor="end" fill="#231f20" stroke="#231f20" textLength="17.08" lengthAdjust="spacingAndGlyphs">4×10</text>
<line x1="69.0" y1="462" x2="72.2" y2="462" stroke="#2a2a2a" stroke-width="1.1"/>
<text x="66.0" y="461.1" font-size="6" text-anchor="end" fill="#231f20" stroke="#231f20" textLength="3.1" lengthAdjust="spacingAndGlyphs">5</text>
<text x="62.7" y="465.0" font-size="8.6" text-anchor="end" fill="#231f20" stroke="#231f20" textLength="17.08" lengthAdjust="spacingAndGlyphs">2×10</text>
<line x1="69.0" y1="481" x2="72.2" y2="481" stroke="#2a2a2a" stroke-width="1.1"/>
<text x="66.0" y="484.0" font-size="8.6" text-anchor="end" fill="#231f20" stroke="#231f20" textLength="4.1" lengthAdjust="spacingAndGlyphs">0</text>
<line x1="88.2" y1="399.1" x2="119.5" y2="399.1" stroke="#606060" stroke-width="1.4"/>
<text x="104" y="393.8" font-size="6.9" text-anchor="middle" fill="#231f20" stroke="#231f20" >ns</text>
<line x1="81.4" y1="490.0" x2="131.3" y2="490.0" stroke="#4a4a4a" stroke-width="1.6"/>
<circle cx="94.2" cy="429.8" r="2.75" fill="#bb344c" stroke="#1e1416" stroke-width="0.95"/>
<circle cx="94.2" cy="431.2" r="2.75" fill="#bb344c" stroke="#1e1416" stroke-width="0.95"/>
<circle cx="94.2" cy="443.6" r="2.75" fill="#bb344c" stroke="#1e1416" stroke-width="0.95"/>
<circle cx="94.2" cy="444.8" r="2.75" fill="#bb344c" stroke="#1e1416" stroke-width="0.95"/>
<circle cx="94.2" cy="452.8" r="2.75" fill="#bb344c" stroke="#1e1416" stroke-width="0.95"/>
<circle cx="94.2" cy="459" r="2.75" fill="#bb344c" stroke="#1e1416" stroke-width="0.95"/>
<rect x="116.15" y="402.65" width="5.5" height="5.5" fill="#476d9f" stroke="#161b24" stroke-width="0.95"/>
<rect x="116.15" y="447.35" width="5.5" height="5.5" fill="#476d9f" stroke="#161b24" stroke-width="0.95"/>
<rect x="116.15" y="462.05" width="5.5" height="5.5" fill="#476d9f" stroke="#161b24" stroke-width="0.95"/>
<rect x="116.15" y="463.85" width="5.5" height="5.5" fill="#476d9f" stroke="#161b24" stroke-width="0.95"/>
<rect x="116.15" y="472.95" width="5.5" height="5.5" fill="#476d9f" stroke="#161b24" stroke-width="0.95"/>
<rect x="116.15" y="476.15" width="5.5" height="5.5" fill="#476d9f" stroke="#161b24" stroke-width="0.95"/>
<line x1="94.2" y1="429.8" x2="118.9" y2="464.8" stroke="#111" stroke-width="1.0"/>
<line x1="94.2" y1="431.2" x2="118.9" y2="466.6" stroke="#111" stroke-width="1.0"/>
<line x1="94.2" y1="443.6" x2="118.9" y2="405.4" stroke="#111" stroke-width="1.0"/>
<line x1="94.2" y1="444.8" x2="118.9" y2="450.1" stroke="#111" stroke-width="1.0"/>
<line x1="94.2" y1="452.8" x2="118.9" y2="475.7" stroke="#111" stroke-width="1.0"/>
<line x1="94.2" y1="459" x2="118.9" y2="478.9" stroke="#111" stroke-width="1.0"/>
<text transform="translate(158.9,434.3) rotate(-90)" x="0" y="0" font-size="9.5" text-anchor="middle" fill="#231f20" stroke="#231f20" textLength="96.8" lengthAdjust="spacingAndGlyphs">CD56-CD3+CD8+T cells</text>
<text transform="translate(170.0,434.9) rotate(-90)" x="0" y="0" font-size="9.3" text-anchor="middle" fill="#231f20" stroke="#231f20" textLength="36.7" lengthAdjust="spacingAndGlyphs">(cells/ml)</text>
<line x1="204.7" y1="387" x2="204.7" y2="483.3" stroke="#2a2a2a" stroke-width="1.4"/>
<line x1="201.5" y1="389.6" x2="204.7" y2="389.6" stroke="#2a2a2a" stroke-width="1.1"/>
<text x="198.5" y="388.7" font-size="6" text-anchor="end" fill="#231f20" stroke="#231f20" textLength="3.1" lengthAdjust="spacingAndGlyphs">5</text>
<text x="195.2" y="392.6" font-size="8.6" text-anchor="end" fill="#231f20" stroke="#231f20" textLength="17.08" lengthAdjust="spacingAndGlyphs">5×10</text>
<line x1="201.5" y1="407.6" x2="204.7" y2="407.6" stroke="#2a2a2a" stroke-width="1.1"/>
<text x="198.5" y="406.7" font-size="6" text-anchor="end" fill="#231f20" stroke="#231f20" textLength="3.1" lengthAdjust="spacingAndGlyphs">5</text>
<text x="195.2" y="410.6" font-size="8.6" text-anchor="end" fill="#231f20" stroke="#231f20" textLength="17.08" lengthAdjust="spacingAndGlyphs">4×10</text>
<line x1="201.5" y1="425.6" x2="204.7" y2="425.6" stroke="#2a2a2a" stroke-width="1.1"/>
<text x="198.5" y="424.7" font-size="6" text-anchor="end" fill="#231f20" stroke="#231f20" textLength="3.1" lengthAdjust="spacingAndGlyphs">5</text>
<text x="195.2" y="428.6" font-size="8.6" text-anchor="end" fill="#231f20" stroke="#231f20" textLength="17.08" lengthAdjust="spacingAndGlyphs">3×10</text>
<line x1="201.5" y1="443.7" x2="204.7" y2="443.7" stroke="#2a2a2a" stroke-width="1.1"/>
<text x="198.5" y="442.8" font-size="6" text-anchor="end" fill="#231f20" stroke="#231f20" textLength="3.1" lengthAdjust="spacingAndGlyphs">5</text>
<text x="195.2" y="446.7" font-size="8.6" text-anchor="end" fill="#231f20" stroke="#231f20" textLength="17.08" lengthAdjust="spacingAndGlyphs">2×10</text>
<line x1="201.5" y1="461.8" x2="204.7" y2="461.8" stroke="#2a2a2a" stroke-width="1.1"/>
<text x="198.5" y="460.9" font-size="6" text-anchor="end" fill="#231f20" stroke="#231f20" textLength="3.1" lengthAdjust="spacingAndGlyphs">5</text>
<text x="195.2" y="464.8" font-size="8.6" text-anchor="end" fill="#231f20" stroke="#231f20" textLength="17.08" lengthAdjust="spacingAndGlyphs">1×10</text>
<line x1="201.5" y1="479.7" x2="204.7" y2="479.7" stroke="#2a2a2a" stroke-width="1.1"/>
<text x="198.5" y="482.7" font-size="8.6" text-anchor="end" fill="#231f20" stroke="#231f20" textLength="4.1" lengthAdjust="spacingAndGlyphs">0</text>
<line x1="226.6" y1="391.1" x2="258.7" y2="391.1" stroke="#454545" stroke-width="1.3"/>
<text x="242.8" y="386.6" font-size="6.9" text-anchor="middle" fill="#231f20" stroke="#231f20" >ns</text>
<line x1="214.2" y1="490.2" x2="273.3" y2="490.2" stroke="#4a4a4a" stroke-width="1.6"/>
<circle cx="229.1" cy="429.3" r="2.75" fill="#bb344c" stroke="#1e1416" stroke-width="0.95"/>
<circle cx="229.1" cy="435.7" r="2.75" fill="#bb344c" stroke="#1e1416" stroke-width="0.95"/>
<circle cx="229.1" cy="448.9" r="2.75" fill="#bb344c" stroke="#1e1416" stroke-width="0.95"/>
<circle cx="229.1" cy="460.4" r="2.75" fill="#bb344c" stroke="#1e1416" stroke-width="0.95"/>
<circle cx="229.1" cy="463.7" r="2.75" fill="#bb344c" stroke="#1e1416" stroke-width="0.95"/>
<circle cx="229.1" cy="470" r="2.75" fill="#bb344c" stroke="#1e1416" stroke-width="0.95"/>
<rect x="255.45" y="399.45" width="5.5" height="5.5" fill="#476d9f" stroke="#161b24" stroke-width="0.95"/>
<rect x="255.45" y="440.15" width="5.5" height="5.5" fill="#476d9f" stroke="#161b24" stroke-width="0.95"/>
<rect x="255.45" y="462.75" width="5.5" height="5.5" fill="#476d9f" stroke="#161b24" stroke-width="0.95"/>
<rect x="255.45" y="470.85" width="5.5" height="5.5" fill="#476d9f" stroke="#161b24" stroke-width="0.95"/>
<rect x="255.45" y="473.55" width="5.5" height="5.5" fill="#476d9f" stroke="#161b24" stroke-width="0.95"/>
<line x1="229.1" y1="429.3" x2="258.2" y2="402.2" stroke="#111" stroke-width="1.0"/>
<line x1="229.1" y1="435.7" x2="258.2" y2="465.5" stroke="#111" stroke-width="1.0"/>
<line x1="229.1" y1="448.9" x2="258.2" y2="465.5" stroke="#111" stroke-width="1.0"/>
<line x1="229.1" y1="460.4" x2="258.2" y2="442.9" stroke="#111" stroke-width="1.0"/>
<line x1="229.1" y1="463.7" x2="258.2" y2="473.6" stroke="#111" stroke-width="1.0"/>
<line x1="229.1" y1="470" x2="258.2" y2="476.3" stroke="#111" stroke-width="1.0"/>
<text transform="translate(291.9,431.7) rotate(-90)" x="0" y="0" font-size="9.6" text-anchor="middle" fill="#231f20" stroke="#231f20" textLength="98.4" lengthAdjust="spacingAndGlyphs">CD3<tspan font-size="6.6" dy="-3.6">−</tspan><tspan dy="3.6">CD19</tspan><tspan font-size="6.6" dy="-3.6">−</tspan><tspan dy="3.6">CD56</tspan><tspan font-size="6.6" dy="-3.6">+</tspan><tspan dy="3.6">CD16</tspan><tspan font-size="6.6" dy="-3.6">+</tspan></text>
<text transform="translate(303.2,431.5) rotate(-90)" x="0" y="0" font-size="9.3" text-anchor="middle" fill="#231f20" stroke="#231f20" textLength="70.8" lengthAdjust="spacingAndGlyphs">NK cells (cells/ml)</text>
<line x1="338.6" y1="382.2" x2="338.6" y2="480.8" stroke="#2a2a2a" stroke-width="1.4"/>
<line x1="335.4" y1="384.9" x2="338.6" y2="384.9" stroke="#2a2a2a" stroke-width="1.1"/>
<text x="332.4" y="384.0" font-size="6" text-anchor="end" fill="#231f20" stroke="#231f20" textLength="3.1" lengthAdjust="spacingAndGlyphs">5</text>
<text x="329.1" y="387.9" font-size="8.6" text-anchor="end" fill="#231f20" stroke="#231f20" textLength="17.08" lengthAdjust="spacingAndGlyphs">8×10</text>
<line x1="335.4" y1="408.5" x2="338.6" y2="408.5" stroke="#2a2a2a" stroke-width="1.1"/>
<text x="332.4" y="407.6" font-size="6" text-anchor="end" fill="#231f20" stroke="#231f20" textLength="3.1" lengthAdjust="spacingAndGlyphs">5</text>
<text x="329.1" y="411.5" font-size="8.6" text-anchor="end" fill="#231f20" stroke="#231f20" textLength="17.08" lengthAdjust="spacingAndGlyphs">6×10</text>
<line x1="335.4" y1="431.5" x2="338.6" y2="431.5" stroke="#2a2a2a" stroke-width="1.1"/>
<text x="332.4" y="430.6" font-size="6" text-anchor="end" fill="#231f20" stroke="#231f20" textLength="3.1" lengthAdjust="spacingAndGlyphs">5</text>
<text x="329.1" y="434.5" font-size="8.6" text-anchor="end" fill="#231f20" stroke="#231f20" textLength="17.08" lengthAdjust="spacingAndGlyphs">4×10</text>
<line x1="335.4" y1="454.8" x2="338.6" y2="454.8" stroke="#2a2a2a" stroke-width="1.1"/>
<text x="332.4" y="453.9" font-size="6" text-anchor="end" fill="#231f20" stroke="#231f20" textLength="3.1" lengthAdjust="spacingAndGlyphs">5</text>
<text x="329.1" y="457.8" font-size="8.6" text-anchor="end" fill="#231f20" stroke="#231f20" textLength="17.08" lengthAdjust="spacingAndGlyphs">2×10</text>
<line x1="335.4" y1="477.8" x2="338.6" y2="477.8" stroke="#2a2a2a" stroke-width="1.1"/>
<text x="332.4" y="480.8" font-size="8.6" text-anchor="end" fill="#231f20" stroke="#231f20" textLength="4.1" lengthAdjust="spacingAndGlyphs">0</text>
<line x1="363.2" y1="378.8" x2="399.2" y2="378.8" stroke="#7a7a7a" stroke-width="1.7"/>
<text x="379.8" y="374.2" font-size="6.9" text-anchor="middle" fill="#231f20" stroke="#231f20" >* 0.0313</text>
<line x1="348" y1="490.3" x2="407" y2="490.3" stroke="#4a4a4a" stroke-width="1.6"/>
<circle cx="363.6" cy="390.5" r="2.75" fill="#bb344c" stroke="#1e1416" stroke-width="0.95"/>
<circle cx="363.6" cy="440.1" r="2.75" fill="#bb344c" stroke="#1e1416" stroke-width="0.95"/>
<circle cx="363.6" cy="447.5" r="2.75" fill="#bb344c" stroke="#1e1416" stroke-width="0.95"/>
<circle cx="363.6" cy="464.8" r="2.75" fill="#bb344c" stroke="#1e1416" stroke-width="0.95"/>
<circle cx="363.6" cy="466.9" r="2.75" fill="#bb344c" stroke="#1e1416" stroke-width="0.95"/>
<circle cx="363.6" cy="469.6" r="2.75" fill="#bb344c" stroke="#1e1416" stroke-width="0.95"/>
<rect x="391.25" y="435.25" width="5.5" height="5.5" fill="#476d9f" stroke="#161b24" stroke-width="0.95"/>
<rect x="391.25" y="465.85" width="5.5" height="5.5" fill="#476d9f" stroke="#161b24" stroke-width="0.95"/>
<rect x="391.25" y="467.95" width="5.5" height="5.5" fill="#476d9f" stroke="#161b24" stroke-width="0.95"/>
<rect x="391.25" y="471.05" width="5.5" height="5.5" fill="#476d9f" stroke="#161b24" stroke-width="0.95"/>
<rect x="391.25" y="474.25" width="5.5" height="5.5" fill="#476d9f" stroke="#161b24" stroke-width="0.95"/>
<line x1="363.6" y1="390.5" x2="394.0" y2="438" stroke="#111" stroke-width="1.0"/>
<line x1="363.6" y1="440.1" x2="394.0" y2="470.7" stroke="#111" stroke-width="1.0"/>
<line x1="363.6" y1="447.5" x2="394.0" y2="477" stroke="#111" stroke-width="1.0"/>
<line x1="363.6" y1="464.8" x2="394.0" y2="468.6" stroke="#111" stroke-width="1.0"/>
<line x1="363.6" y1="466.9" x2="394.0" y2="477" stroke="#111" stroke-width="1.0"/>
<line x1="363.6" y1="469.6" x2="394.0" y2="473.8" stroke="#111" stroke-width="1.0"/>
<circle cx="433.2" cy="392.5" r="2.9" fill="#bb344c" stroke="#1e1416" stroke-width="0.95"/>
<line x1="426.9" y1="392.5" x2="439.7" y2="392.5" stroke="#1a1a1a" stroke-width="0.9"/>
<text x="442.8" y="395.4" font-size="8.6" text-anchor="start" fill="#231f20" stroke="#231f20" textLength="45.2" lengthAdjust="spacingAndGlyphs" >Pre-Treatment</text>
<rect x="430.4" y="403.6" width="5.6" height="5.6" fill="#476d9f" stroke="#161b24" stroke-width="0.95"/>
<line x1="426.9" y1="406.4" x2="439.7" y2="406.4" stroke="#1a1a1a" stroke-width="0.9"/>
<text x="442.8" y="409.1" font-size="8.6" text-anchor="start" fill="#231f20" stroke="#231f20" textLength="62.2" lengthAdjust="spacingAndGlyphs" >24h Post-Treatment</text>
<rect x="0" y="0" width="520" height="1" fill="#4b4b4b"/>
<rect x="0" y="1" width="520" height="0.5" fill="#4b4b4b"/>
<rect x="0" y="0" width="2" height="498" fill="#4b4b4b"/>
<rect x="519" y="0" width="1" height="498" fill="#000"/>
<rect x="0" y="496" width="520" height="1" fill="#b0b0b0"/>
<rect x="0" y="497" width="520" height="1" fill="#4b4b4b"/>
<rect x="518" y="0" width="1" height="498" fill="#dadada"/>
<rect x="519" y="0" width="1" height="498" fill="#000"/>
</svg></div></body></html>
